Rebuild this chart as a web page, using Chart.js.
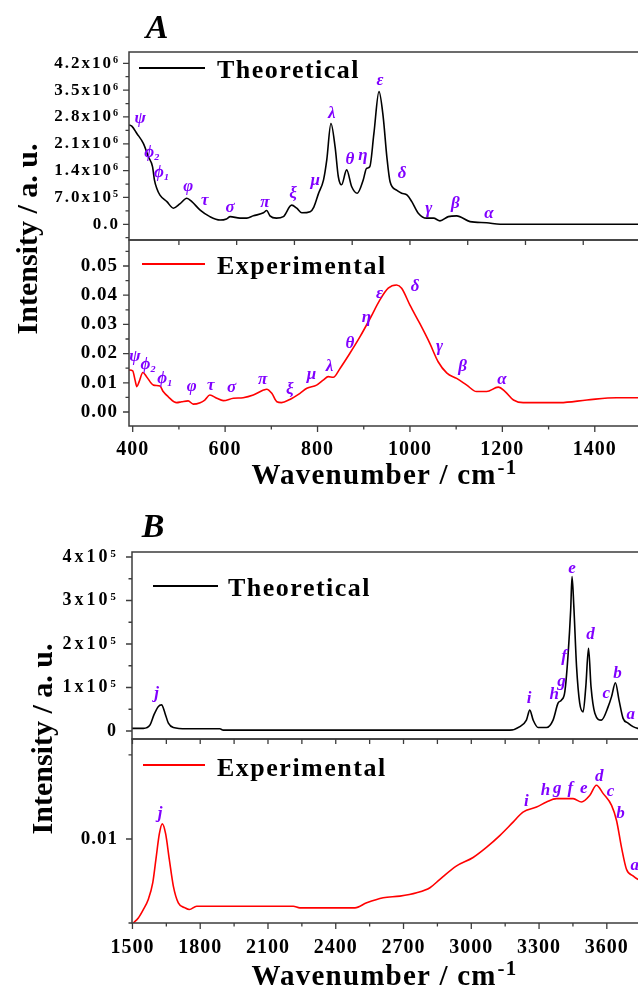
<!DOCTYPE html>
<html>
<head>
<meta charset="utf-8">
<script src="https://cdn.jsdelivr.net/npm/chart.js@4.4.1/dist/chart.umd.min.js"></script>
<style>
html, body { margin: 0; padding: 0; background: #fff; overflow: hidden; width: 638px; height: 988px; }
canvas { position: absolute; left: 0; top: 0; }
</style>
</head>
<body>
<canvas id="aTop" width="660" height="988"></canvas>
<canvas id="aBot" width="660" height="988"></canvas>
<canvas id="bTop" width="660" height="988"></canvas>
<canvas id="bBot" width="660" height="988"></canvas>
<script>
"use strict"

// ---------- panel A (400 - 1500 cm-1) ----------
// theoretical spectrum, intensity in units of 10^6
const thA_x = [392, 398, 409, 423, 434, 443, 447, 452, 459, 474, 488, 502, 517, 528, 546, 567, 589, 603, 611, 632,
    647, 661, 683, 690, 697, 711, 726, 744, 755, 766, 784, 792, 802, 813, 820, 829, 838, 845, 852, 863,
    874, 886, 899, 906, 913, 922, 933, 942, 950, 957, 971, 982, 994, 1004, 1018, 1036, 1051, 1065, 1083, 1101,
    1130, 1166, 1195, 1250, 1350, 1500];
const thA_y = [2.59, 2.56, 2.37, 2.11, 1.76, 1.50, 1.16, 0.94, 0.76, 0.59, 0.42, 0.53, 0.68, 0.59, 0.37, 0.20, 0.11, 0.14, 0.20, 0.16,
    0.16, 0.22, 0.30, 0.36, 0.22, 0.16, 0.20, 0.50, 0.42, 0.30, 0.33, 0.45, 0.80, 1.16, 1.68, 2.63, 2.02, 1.24, 1.03, 1.42,
    0.98, 0.81, 1.16, 1.46, 1.50, 2.37, 3.46, 2.81, 1.76, 1.11, 0.89, 0.81, 0.76, 0.59, 0.29, 0.16, 0.16, 0.09, 0.20, 0.22,
    0.07, 0.04, 0.0, 0.0, 0.0, 0.0];
// experimental spectrum
const exA_x = [392, 400, 405, 409, 414, 422, 430, 445, 459, 466, 477, 495, 506, 520, 531, 546, 556, 567, 582, 596,
    618, 639, 661, 683, 690, 701, 712, 722, 740, 762, 777, 798, 813, 823, 834, 849, 870, 892, 914, 935,
    953, 971, 982, 1000, 1021, 1043, 1061, 1080, 1101, 1123, 1144, 1166, 1191, 1206, 1224, 1245, 1325, 1383, 1447, 1500];
const exA_y = [0.0144, 0.0141, 0.0110, 0.0087, 0.0104, 0.0135, 0.0121, 0.0092, 0.0089, 0.0070, 0.0052, 0.0032, 0.0035, 0.0038, 0.0027, 0.0032, 0.0041, 0.0058, 0.0047, 0.0039,
    0.0047, 0.0049, 0.0058, 0.0075, 0.0078, 0.0064, 0.0035, 0.0032, 0.0043, 0.0064, 0.0081, 0.0092, 0.0110, 0.0121, 0.0119, 0.0150, 0.0201, 0.0258, 0.0321, 0.0384,
    0.0424, 0.0435, 0.0424, 0.0366, 0.0304, 0.0235, 0.0172, 0.0133, 0.0115, 0.0092, 0.0070, 0.0070, 0.0085, 0.0070, 0.0041, 0.0032, 0.0032, 0.0041, 0.0049, 0.0049];
// band assignments: [label, wavenumber, intensity]
const thA_bands = [['ψ', 416, 2.77], ['ϕ₂', 442, 1.86], ['ϕ₁', 463, 1.34], ['φ', 520, 0.97], ['τ', 556, 0.63], ['σ', 611, 0.43],
    ['π', 686, 0.56], ['ξ', 747, 0.79], ['μ', 795, 1.13], ['λ', 831, 2.90], ['θ', 870, 1.70], ['η', 898, 1.78],
    ['ε', 935, 3.76], ['δ', 983, 1.31], ['γ', 1041, 0.40], ['β', 1098, 0.53], ['α', 1171, 0.29]];
const exA_bands = [['ψ', 405, 0.0189], ['ϕ₂', 434, 0.0161], ['ϕ₁', 470, 0.0115], ['φ', 528, 0.0087], ['τ', 569, 0.0092], ['σ', 614, 0.0085],
    ['π', 681, 0.0110], ['ξ', 740, 0.0075], ['μ', 787, 0.0127], ['λ', 826, 0.0155], ['θ', 870, 0.0235], ['η', 906, 0.0324],
    ['ε', 934, 0.0406], ['δ', 1011, 0.0429], ['γ', 1064, 0.0224], ['β', 1114, 0.0155], ['α', 1199, 0.0110]];
// tick labels
const A_xTicks = [400, 600, 800, 1000, 1200, 1400];
const A_xTickLabels = ['400', '600', '800', '1000', '1200', '1400'];
const thA_yTicks = [0, 0.7, 1.4, 2.1, 2.8, 3.5, 4.2];
const thA_yTickLabels = ['0.0', '7.0x10⁵', '1.4x10⁶', '2.1x10⁶', '2.8x10⁶', '3.5x10⁶', '4.2x10⁶'];
const exA_yTicks = [0, 0.01, 0.02, 0.03, 0.04, 0.05];
const exA_yTickLabels = ['0.00', '0.01', '0.02', '0.03', '0.04', '0.05'];

// ---------- panel B (1500 - 3800 cm-1) ----------
// theoretical spectrum, intensity in units of 10^5
const thB_x = [1498, 1548, 1578, 1595, 1614, 1629, 1644, 1659, 1681, 1740, 1887, 1902, 3171, 3215, 3244, 3259, 3274, 3296, 3333, 3362,
    3384, 3399, 3414, 3429, 3440, 3446, 3454, 3466, 3480, 3495, 3507, 3519, 3530, 3547, 3576, 3606, 3621, 3638, 3654, 3672,
    3694, 3716, 3737, 3800];
const thB_y = [0.06, 0.06, 0.14, 0.37, 0.56, 0.60, 0.41, 0.18, 0.08, 0.05, 0.05, 0.02, 0.02, 0.10, 0.25, 0.48, 0.25, 0.08, 0.08, 0.25,
    0.64, 0.71, 0.90, 1.79, 2.78, 3.55, 2.86, 1.48, 0.64, 0.44, 1.02, 1.90, 1.02, 0.41, 0.25, 0.56, 0.79, 1.11, 0.71, 0.29,
    0.18, 0.10, 0.06, 0.03];
// experimental spectrum
const exB_x = [1504, 1526, 1548, 1570, 1590, 1604, 1619, 1632, 1647, 1663, 1681, 1703, 1733, 1752, 1784, 1873, 1990, 2212, 2241, 2418,
    2485, 2537, 2610, 2684, 2758, 2817, 2861, 2935, 3008, 3067, 3126, 3185, 3229, 3289, 3333, 3377, 3421, 3451, 3488, 3525,
    3554, 3584, 3621, 3643, 3665, 3687, 3716, 3737, 3800];
const exB_y = [0.0050, 0.0053, 0.0058, 0.0064, 0.0074, 0.0088, 0.0103, 0.0109, 0.0103, 0.0088, 0.0072, 0.0062, 0.0059, 0.0058, 0.0060, 0.0060, 0.0060, 0.0060, 0.0059, 0.0059,
    0.0059, 0.0062, 0.0065, 0.0066, 0.0068, 0.0071, 0.0076, 0.0084, 0.0089, 0.0095, 0.0102, 0.0110, 0.0116, 0.0119, 0.0122, 0.0124, 0.0124, 0.0124, 0.0122, 0.0126,
    0.0132, 0.0127, 0.0120, 0.0111, 0.0095, 0.0082, 0.0078, 0.0076, 0.0074];
const thB_bands = [['j', 1607, 0.87], ['i', 3256, 0.75], ['h', 3367, 0.83], ['g', 3399, 1.13], ['f', 3411, 1.71],
    ['e', 3446, 3.74], ['d', 3528, 2.21], ['c', 3598, 0.87], ['b', 3647, 1.31], ['a', 3706, 0.37]];
const exB_bands = [['j', 1622, 0.0115], ['i', 3244, 0.0122], ['h', 3328, 0.0129], ['g', 3380, 0.0130], ['f', 3439, 0.0130],
    ['e', 3498, 0.0130], ['d', 3566, 0.0137], ['c', 3616, 0.0128], ['b', 3660, 0.0115], ['a', 3724, 0.0084]];
const B_xTicks = [1500, 1800, 2100, 2400, 2700, 3000, 3300, 3600];
const B_xTickLabels = ['1500', '1800', '2100', '2400', '2700', '3000', '3300', '3600'];
const thB_yTicks = [0, 1, 2, 3, 4];
const thB_yTickLabels = ['0', '1x10⁵', '2x10⁵', '3x10⁵', '4x10⁵'];
const exB_yTicks = [0.01];
const exB_yTickLabels = ['0.01'];

const PAGE_W = 660;
const PAGE_H = 988;
const SERIF = '"Liberation Serif", "Times New Roman", "DejaVu Serif", serif';
const BAND_COLOR = '#8000ff';
const FRAME_COLOR = '#3c3c3c';

// returns a tick callback that only labels the listed (major) values
function tickLabeler(vals, labels){
    return function(v){
        for (let i = 0; i < vals.length; i++){
            if (Math.abs(vals[i] - v) < 1e-9) return labels[i];
        }
        return '';
    }
}

// evenly spaced tick marks inside the scale range
// (chart.js stretches the step when max-min is nearly a whole number of steps, so set them here)
function stepTicks(step){
    return function(sc){
        const out = [];
        for (let k = Math.ceil(sc.min / step - 1e-9); k * step <= sc.max + 1e-9; k++){
            out.push({value: Math.round(k * step * 1e6) / 1e6});
        }
        sc.ticks = out;
    }
}

// frame, tick marks, inline legend, band labels and titles
function decorPlugin(s){
    return {
        id: 'decor',
        beforeDraw: function(chart){
            chart.ctx.letterSpacing = s.tickSpacing + 'px';
        },
        afterDraw: function(chart){
            const ctx = chart.ctx;
            const a = chart.chartArea;
            const xs = chart.scales.x;
            const ys = chart.scales.y;
            ctx.save();
            ctx.letterSpacing = '0px';

            // frame
            ctx.strokeStyle = FRAME_COLOR;
            ctx.lineWidth = 1.5;
            ctx.strokeRect(a.left, a.top, a.right - a.left, a.bottom - a.top);

            // outward tick marks, longer on labelled values
            ctx.lineWidth = 1.3;
            ctx.beginPath();
            xs.ticks.forEach(function(t){
                const px = xs.getPixelForValue(t.value);
                const len = s.xTickLen ? s.xTickLen : (t.label ? 6 : 3.5);
                ctx.moveTo(px, a.bottom);
                ctx.lineTo(px, a.bottom + len);
            });
            ys.ticks.forEach(function(t){
                const py = ys.getPixelForValue(t.value);
                const len = t.label ? 6 : 3.5;
                ctx.moveTo(a.left, py);
                ctx.lineTo(a.left - len, py);
            });
            ctx.stroke();

            // legend inside the frame
            const ds = chart.data.datasets[0];
            ctx.strokeStyle = ds.borderColor;
            ctx.lineWidth = 2;
            ctx.beginPath();
            ctx.moveTo(s.legend.x1, s.legend.y);
            ctx.lineTo(s.legend.x2, s.legend.y);
            ctx.stroke();
            ctx.fillStyle = '#000';
            ctx.font = 'bold 26px ' + SERIF;
            ctx.letterSpacing = '1.5px';
            ctx.textAlign = 'left';
            ctx.textBaseline = 'alphabetic';
            ctx.fillText(ds.label, s.legend.tx, s.legend.ty);

            // band assignments
            ctx.letterSpacing = '0px';
            ctx.fillStyle = BAND_COLOR;
            ctx.font = 'italic bold 17px ' + SERIF;
            ctx.textAlign = 'center';
            ctx.textBaseline = 'middle';
            s.bands.forEach(function(b){
                ctx.fillText(b[0], xs.getPixelForValue(b[1]), ys.getPixelForValue(b[2]));
            });

            ctx.fillStyle = '#000';
            if (s.panel){
                ctx.font = 'italic bold 34px ' + SERIF;
                ctx.textAlign = 'center';
                ctx.textBaseline = 'alphabetic';
                ctx.fillText(s.panel.text, s.panel.x, s.panel.y);
            }
            if (s.yTitle){
                ctx.save();
                ctx.translate(s.yTitle.x, s.yTitle.y);
                ctx.rotate(-Math.PI / 2);
                ctx.font = 'bold 30px ' + SERIF;
                ctx.textAlign = 'center';
                ctx.textBaseline = 'alphabetic';
                ctx.fillText('Intensity / a. u.', 0, 0);
                ctx.restore();
            }
            if (s.xTitle){
                ctx.textAlign = 'left';
                ctx.textBaseline = 'alphabetic';
                ctx.letterSpacing = '1.2px';
                ctx.font = 'bold 29px ' + SERIF;
                const main = 'Wavenumber / cm';
                const w1 = ctx.measureText(main).width;
                ctx.font = 'bold 21px ' + SERIF;
                const w2 = ctx.measureText('-1').width;
                const x0 = s.xTitle.x - (w1 + w2) / 2;
                ctx.font = 'bold 29px ' + SERIF;
                ctx.fillText(main, x0, s.xTitle.y);
                ctx.font = 'bold 21px ' + SERIF;
                ctx.fillText('-1', x0 + w1 + 1, s.xTitle.y - 10);
            }
            ctx.restore();
        }
    }
}

function spectrumChart(canvasId, s){
    const pts = s.xs.map(function(x, i){ return {x: x, y: s.ys[i]}; });
    return new Chart(document.getElementById(canvasId), {
        type: 'line',
        data: {
            datasets: [{
                label: s.label,
                data: pts,
                borderColor: s.color,
                borderWidth: 1.6,
                pointRadius: 0,
                cubicInterpolationMode: 'monotone',
                fill: false
            }]
        },
        options: {
            responsive: false,
            animation: false,
            events: [],
            layout: {
                autoPadding: false,
                padding: {left: 0, top: s.area.top, right: PAGE_W - s.area.right, bottom: PAGE_H - s.area.bottom - s.xAxisH}
            },
            plugins: {legend: {display: false}, tooltip: {enabled: false}},
            scales: {
                x: {
                    type: 'linear',
                    min: s.xRange[0],
                    max: s.xRange[1],
                    afterBuildTicks: stepTicks(s.xStep),
                    afterFit: function(sc){ sc.height = s.xAxisH; },
                    border: {display: false},
                    grid: {display: false, drawTicks: false, tickLength: 0},
                    ticks: {
                        display: !!s.xLabels,
                        autoSkip: false,
                        maxRotation: 0,
                        padding: s.xPad || 0,
                        color: '#000',
                        font: {family: SERIF, size: 20, weight: 'bold'},
                        callback: s.xLabels ? tickLabeler(s.xLabels[0], s.xLabels[1]) : function(){ return ''; }
                    }
                },
                y: {
                    type: 'linear',
                    min: s.yRange[0],
                    max: s.yRange[1],
                    afterBuildTicks: stepTicks(s.yStep),
                    afterFit: function(sc){ sc.width = s.area.left; },
                    border: {display: false},
                    grid: {display: false, drawTicks: false, tickLength: 0},
                    ticks: {
                        autoSkip: false,
                        padding: s.yPad,
                        color: '#000',
                        font: {family: SERIF, size: s.yFont, weight: 'bold'},
                        callback: tickLabeler(s.yLabels[0], s.yLabels[1])
                    }
                }
            }
        },
        plugins: [decorPlugin(s)]
    });
}

// panel A, theoretical
spectrumChart('aTop', {
    label: 'Theoretical', color: '#000000', xs: thA_x, ys: thA_y, bands: thA_bands,
    area: {left: 129, top: 52, right: 641, bottom: 240}, xAxisH: 10,
    xRange: [392, 1500], xStep: 125, xLabels: null, xTickLen: 5,
    yRange: [-0.41, 4.495], yStep: 0.35, yLabels: [thA_yTicks, thA_yTickLabels], yFont: 17, yPad: 9, tickSpacing: 2,
    legend: {x1: 139, x2: 205, y: 68, tx: 217, ty: 78}
});
// panel A, experimental
spectrumChart('aBot', {
    label: 'Experimental', color: '#ff0000', xs: exA_x, ys: exA_y, bands: exA_bands,
    area: {left: 129, top: 240, right: 641, bottom: 426}, xAxisH: 45,
    xRange: [392, 1500], xStep: 100, xLabels: [A_xTicks, A_xTickLabels], xPad: 12,
    yRange: [-0.0048, 0.0589], yStep: 0.005, yLabels: [exA_yTicks, exA_yTickLabels], yFont: 19, yPad: 11, tickSpacing: 1,
    legend: {x1: 142, x2: 205, y: 264, tx: 217, ty: 274},
    panel: {text: 'A', x: 157, y: 38},
    yTitle: {x: 37, y: 239},
    xTitle: {x: 384, y: 484}
});
// panel B, theoretical
spectrumChart('bTop', {
    label: 'Theoretical', color: '#000000', xs: thB_x, ys: thB_y, bands: thB_bands,
    area: {left: 132, top: 552, right: 652, bottom: 739}, xAxisH: 10,
    xRange: [1498, 3800], xStep: 150, xLabels: null, xTickLen: 5,
    yRange: [-0.184, 4.115], yStep: 0.5, yLabels: [thB_yTicks, thB_yTickLabels], yFont: 18, yPad: 13, tickSpacing: 3,
    legend: {x1: 153, x2: 218, y: 586, tx: 228, ty: 596}
});
// panel B, experimental
spectrumChart('bBot', {
    label: 'Experimental', color: '#ff0000', xs: exB_x, ys: exB_y, bands: exB_bands,
    area: {left: 132, top: 739, right: 652, bottom: 923}, xAxisH: 45,
    xRange: [1498, 3800], xStep: 150, xLabels: [B_xTicks, B_xTickLabels], xPad: 13,
    yRange: [0.005, 0.01595], yStep: 0.005, yLabels: [exB_yTicks, exB_yTickLabels], yFont: 19, yPad: 14, tickSpacing: 1,
    legend: {x1: 143, x2: 205, y: 765, tx: 217, ty: 776},
    panel: {text: 'B', x: 153, y: 537},
    yTitle: {x: 52, y: 739},
    xTitle: {x: 384, y: 985}
});
</script>
</body>
</html>
